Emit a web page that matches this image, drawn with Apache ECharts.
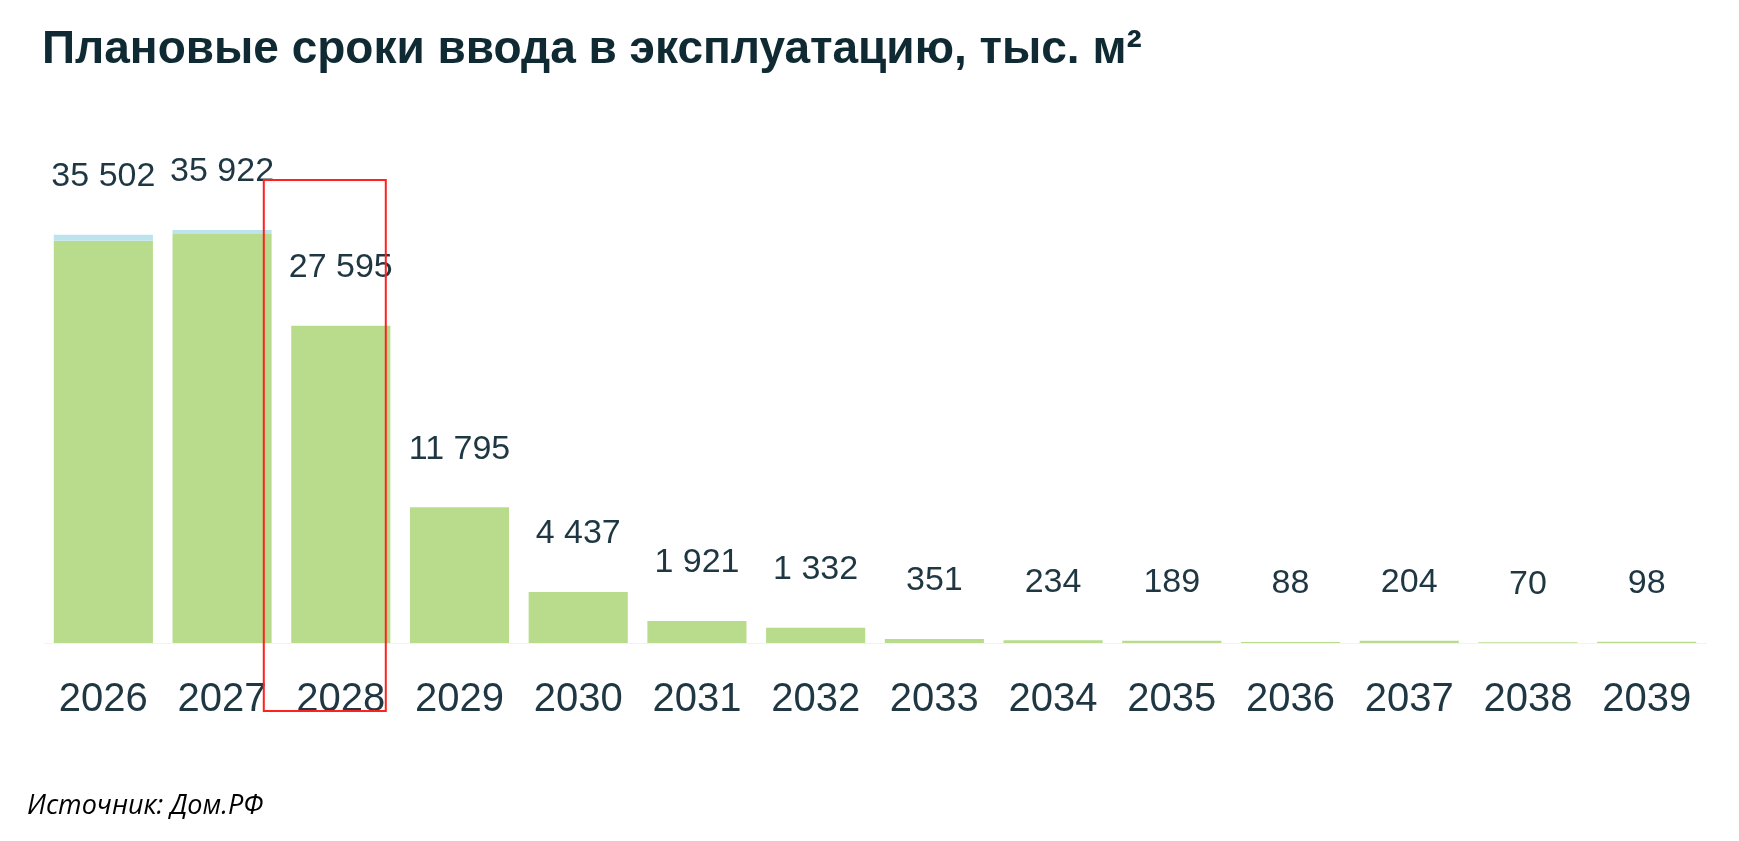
<!DOCTYPE html>
<html>
<head>
<meta charset="utf-8">
<title>Плановые сроки ввода</title>
<script src="https://cdn.jsdelivr.net/npm/echarts@6/dist/echarts.min.js"></script>
<style>
  html, body { margin: 0; padding: 0; background: #fff; }
  #main { width: 1739px; height: 841px; }
</style>
</head>
<body>
<div id="main"></div>
<script>
// годы ввода
const years = ['2026', '2027', '2028', '2029', '2030', '2031', '2032', '2033', '2034', '2035', '2036', '2037', '2038', '2039'];
// итог по году, тыс. м2 (подписи)
const totals = [35502, 35922, 27595, 11795, 4437, 1921, 1332, 351, 234, 189, 88, 204, 70, 98];
// светло-голубая часть сверху столбца (оценка по картинке)
const capPart = [522, 352, 0, 0, 0, 0, 0, 0, 0, 0, 0, 0, 0, 0];
// основная зелёная часть
const mainPart = totals.map((t, i) => t - capPart[i]);

const textColor = '#1f3742';

var chartDom = document.getElementById('main');
var myChart = echarts.init(chartDom);
var option;

function fmt(v) {
    return String(v).replace(/\B(?=(\d{3})+(?!\d))/g, ' ');
}

option = {
    animation: false,
    backgroundColor: '#ffffff',
    title: [
        {
            text: 'Плановые сроки ввода в эксплуатацию, тыс. м²',
            left: 37,
            top: 22,
            textStyle: {
                fontFamily: 'Liberation Sans, Arial, sans-serif',
                fontWeight: 'bold',
                fontSize: 46,
                color: '#0f2a33'
            }
        },
        {
            text: 'Источник: Дом.РФ',
            left: 22,
            top: 788,
            textStyle: {
                fontFamily: 'Open Sans, sans-serif',
                fontStyle: 'italic',
                fontWeight: 'normal',
                fontSize: 27,
                color: '#000000'
            }
        }
    ],
    grid: {
        left: 44,
        right: 33,
        top: 183,
        bottom: 198,
        containLabel: false
    },
    xAxis: {
        type: 'category',
        data: years,
        axisLine: { show: true, lineStyle: { color: '#f2f2f2', width: 1 } },
        axisTick: { show: false },
        axisLabel: {
            margin: 37,
            fontSize: 40,
            fontFamily: 'Liberation Sans, Arial, sans-serif',
            color: textColor
        }
    },
    yAxis: {
        type: 'value',
        min: 0,
        max: 40000,
        show: false,
        splitLine: { show: false }
    },
    series: [
        {
            name: 'main',
            type: 'bar',
            stack: 'total',
            data: mainPart,
            barCategoryGap: '16.5%',
            itemStyle: { color: '#b9dc8c' }
        },
        {
            name: 'cap',
            type: 'bar',
            stack: 'total',
            data: capPart,
            itemStyle: { color: '#bde3ef' },
            label: {
                show: true,
                position: 'top',
                distance: 41,
                fontSize: 34,
                fontFamily: 'Liberation Sans, Arial, sans-serif',
                color: textColor,
                formatter: p => fmt(totals[p.dataIndex])
            }
        }
    ]
};
option && myChart.setOption(option);

// красная рамка вокруг 2028
var cx = myChart.convertToPixel({ xAxisIndex: 0 }, '2028');
myChart.setOption({
    graphic: [
        {
            type: 'rect',
            shape: { x: cx - 77, y: 180, width: 122, height: 531 },
            style: { fill: 'none', stroke: '#ff2020', lineWidth: 2 },
            z: 100
        }
    ]
});
</script>
</body>
</html>
